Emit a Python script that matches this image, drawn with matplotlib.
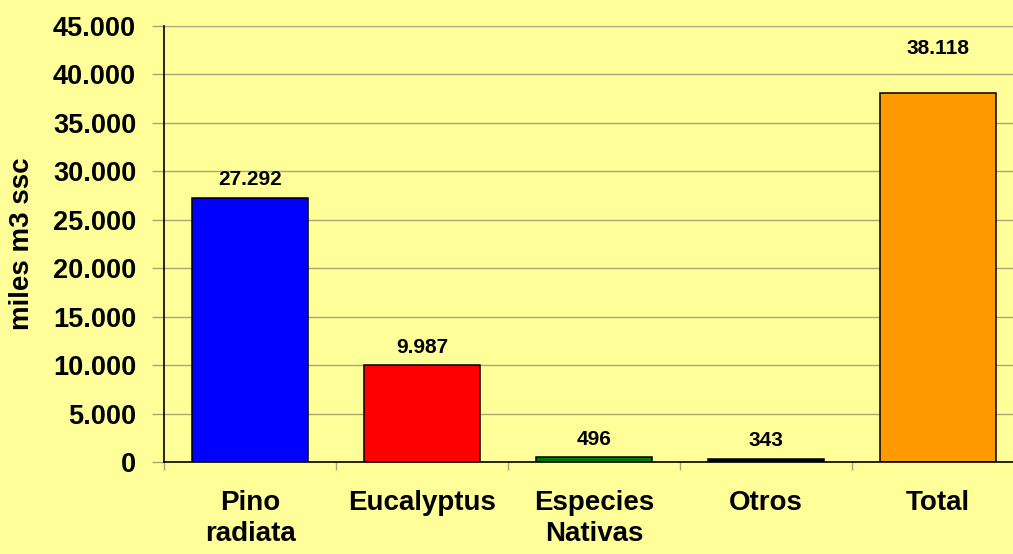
import matplotlib

matplotlib.use("Agg")
import matplotlib.pyplot as plt
from matplotlib.ticker import FuncFormatter, FixedLocator

plt.rcParams["font.family"] = ["Liberation Sans", "DejaVu Sans"]
plt.rcParams["font.weight"] = "bold"

categories = ["Pino\nradiata", "Eucalyptus", "Especies\nNativas", "Otros", "Total"]
values = [27292, 9987, 496, 343, 38118]
bar_colors = ["#0000ff", "#ff0000", "#007a00", "#000000", "#ff9900"]
label_offsets = [6, 6, 6, 6, 25]  # points above bar top
y_ticks = list(range(0, 45001, 5000))

BG = "#ffff99"
GRID = "#aca676"


def thousands(value, _pos=None):
    return f"{int(value):,}".replace(",", ".")


fig = plt.figure(figsize=(10.13, 5.54), dpi=100)
fig.patch.set_facecolor(BG)
ax = fig.add_axes([164 / 1013, 92 / 554, 860 / 1013, 436 / 554])
ax.set_facecolor(BG)

positions = list(range(len(values)))
ax.bar(positions, values, width=0.67, color=bar_colors, edgecolor="black", linewidth=1.1, zorder=3)

for pos, val, off in zip(positions, values, label_offsets):
    ax.annotate(thousands(val), (pos, val), xytext=(0, off), textcoords="offset points",
                ha="center", va="bottom", fontsize=15, fontweight="bold", color="black")

ax.set_xlim(-0.5, len(values) - 0.5)
ax.set_ylim(0, 45000)
ax.set_yticks(y_ticks)
ax.yaxis.set_major_formatter(FuncFormatter(thousands))
ax.grid(True, axis="y", color=GRID, linewidth=1.0, zorder=0)

ax.set_xticks(positions)
ax.set_xticklabels(categories, fontsize=20, fontweight="bold", linespacing=1.25)
ax.xaxis.set_minor_locator(FixedLocator([p - 0.5 for p in positions] + [len(values) - 0.5]))
ax.tick_params(axis="x", which="major", length=0, pad=20)
ax.tick_params(axis="x", which="minor", length=6, color=GRID, width=1)
ax.tick_params(axis="y", length=9, color=GRID, width=1, pad=11, labelsize=19.5)

for side in ["top", "right"]:
    ax.spines[side].set_visible(False)
for side in ["left", "bottom"]:
    ax.spines[side].set_color("black")
    ax.spines[side].set_linewidth(1.2)
    ax.spines[side].set_zorder(4)

ax.set_ylabel("miles m3 ssc", fontsize=20, fontweight="bold")
ax.yaxis.set_label_coords(-(164 - 35) / 860, 0.5)

fig.savefig("out.png", dpi=100, facecolor=BG)
